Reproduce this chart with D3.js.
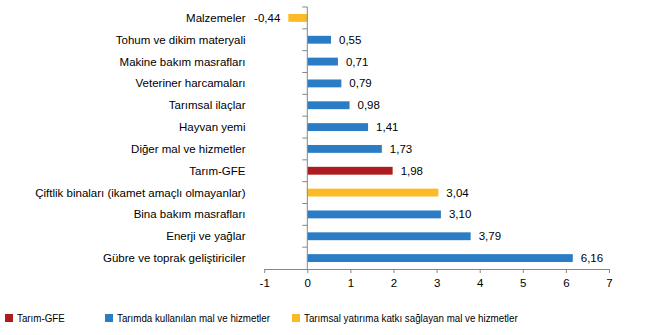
<!DOCTYPE html>
<html><head><meta charset="utf-8">
<script src="https://cdn.jsdelivr.net/npm/d3@7"></script>
<style>body{margin:0;background:#fff}svg{display:block}text{font-family:"Liberation Sans",Arial,sans-serif;fill:#000}</style>
</head><body><svg id="c" width="659" height="335"></svg>
<script>
const categories = ["Malzemeler","Tohum ve dikim materyali","Makine bakım masrafları","Veteriner harcamaları","Tarımsal ilaçlar","Hayvan yemi","Diğer mal ve hizmetler","Tarım-GFE","Çiftlik binaları (ikamet amaçlı olmayanlar)","Bina bakım masrafları","Enerji ve yağlar","Gübre ve toprak geliştiriciler"];
const values = [-0.44,0.55,0.71,0.79,0.98,1.41,1.73,1.98,3.04,3.10,3.79,6.16];
const groups = ["yat","kul","kul","kul","kul","kul","kul","gfe","yat","kul","kul","kul"];
const seriesKeys = ["gfe","kul","yat"];
const seriesNames = ["Tarım-GFE","Tarımda kullanılan mal ve hizmetler","Tarımsal yatırıma katkı sağlayan mal ve hizmetler"];
const seriesColors = ["#AE1C1F","#2A7DC5","#FBBA26"];
const xTicks = [-1,0,1,2,3,4,5,6,7];

const svg = d3.select("#c");
const color = d3.scaleOrdinal().domain(seriesKeys).range(seriesColors);
const x = d3.scaleLinear().domain([-1,7]).range([264.2,609]);
const y = d3.scaleBand().domain(categories).range([7,269]).paddingInner(0.64).paddingOuter(0.32);
const fmt = v => d3.format(".2f")(v).replace(".",",").replace("\u2212","-");

// bars
svg.append("g").selectAll("rect").data(values).join("rect")
  .attr("x",(d)=>x(Math.min(0,d)))
  .attr("width",d=>Math.abs(x(d)-x(0)))
  .attr("y",(d,i)=>y(categories[i]))
  .attr("height",y.bandwidth())
  .attr("fill",(d,i)=>color(groups[i]));

// x axis
const xa = svg.append("g").attr("transform","translate(0,269)")
  .call(d3.axisBottom(x).tickValues(xTicks).tickSize(4).tickSizeOuter(0).tickFormat(d=>String(d)));
xa.select(".domain").attr("stroke","#868686");
xa.selectAll(".tick line").attr("stroke","#868686");
xa.selectAll(".tick text").attr("font-size","11.5px").attr("dy","0.71em").attr("y",10).style("font-family","'Liberation Sans',Arial,sans-serif");

// y axis line + ticks at band boundaries
const step = y.step();
const yg = svg.append("g");
yg.append("line").attr("x1",x(0)).attr("x2",x(0)).attr("y1",7).attr("y2",269).attr("stroke","#868686");
const bounds = d3.range(categories.length).map(i=>y(categories[i]) - y.paddingInner()*step/2);
yg.selectAll("line.t").data(bounds).join("line").attr("class","t")
  .attr("x1",x(0)-5).attr("x2",x(0)).attr("y1",d=>d).attr("y2",d=>d).attr("stroke","#868686");

// category labels
svg.append("g").selectAll("text").data(categories).join("text")
  .attr("x",245.5).attr("y",d=>y(d)+y.bandwidth()/2).attr("dy","0.35em")
  .attr("text-anchor","end").attr("font-size","11.5px").text(d=>d);

// value labels
svg.append("g").selectAll("text").data(values).join("text")
  .attr("x",d=>d<0 ? x(d)-8 : x(d)+8)
  .attr("y",(d,i)=>y(categories[i])+y.bandwidth()/2).attr("dy","0.35em")
  .attr("text-anchor",d=>d<0?"end":"start").attr("font-size","11.5px").text(fmt);

// legend
const legX = [5,105,292];
const lg = svg.append("g").selectAll("g").data(seriesKeys).join("g")
  .attr("transform",(d,i)=>`translate(${legX[i]},318)`);
lg.append("rect").attr("x",0).attr("y",-4).attr("width",8).attr("height",8).attr("fill",d=>color(d));
lg.append("text").attr("transform","translate(12,0) scale(0.85,1)").attr("dy","0.35em").attr("font-size","11.5px")
  .text((d,i)=>seriesNames[i]);
</script></body></html>
